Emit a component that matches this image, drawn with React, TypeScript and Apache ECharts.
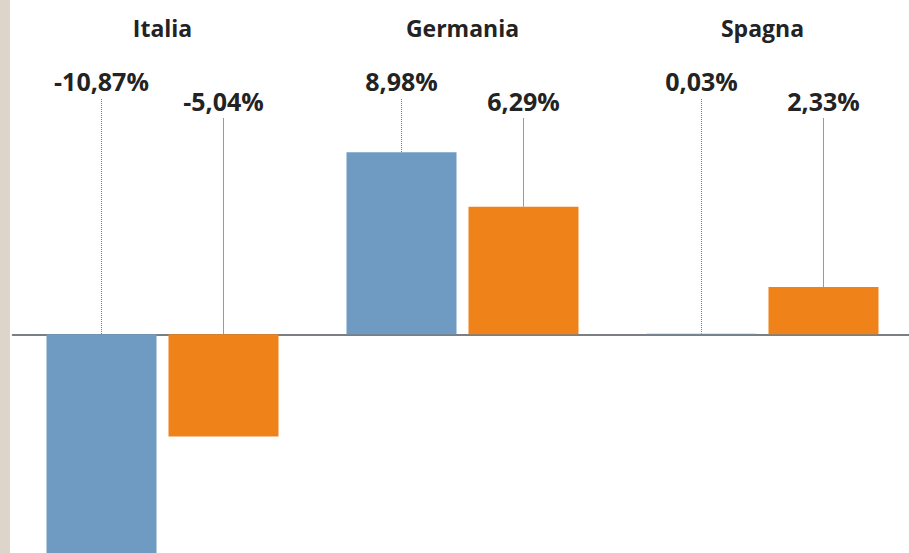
import React, { useEffect, useRef } from "react";
import * as echarts from "echarts";

const categories = ["Italia", "Germania", "Spagna"];
const seriesBlue = [-10.87, 8.98, 0.03];
const seriesOrange = [-5.04, 6.29, 2.33];

const BLUE = "#6f9bc3";
const ORANGE = "#f0821a";
const TEXT = "#232323";
const FONT = "'Open Sans', 'Noto Sans', sans-serif";

function fmt(v: number): string {
  return v.toFixed(2).replace(".", ",") + "%";
}

function leaderSeries(
  name: string,
  values: number[],
  offset: number,
  labelY: number,
  lineTop: number,
  dash: number[] | null
) {
  return {
    type: "custom",
    name,
    xAxisIndex: 0,
    yAxisIndex: 0,
    z: 5,
    clip: false,
    silent: true,
    data: values.map((v, i) => [i, v]),
    renderItem: (_params: any, api: any) => {
      const v = api.value(1) as number;
      const top = api.coord([api.value(0), Math.max(v, 0)]);
      const x = top[0] + offset;
      return {
        type: "group",
        children: [
          {
            type: "line",
            shape: { x1: x, y1: lineTop, x2: x, y2: top[1] },
            style: {
              stroke: dash ? "#7d7d7d" : "#9a9a9a",
              lineWidth: 1,
              lineDash: dash || undefined,
            },
          },
          {
            type: "text",
            x,
            y: labelY,
            style: {
              text: fmt(v),
              fill: TEXT,
              fontSize: 25,
              fontWeight: "bold",
              fontFamily: FONT,
              align: "center",
              verticalAlign: "middle",
            },
          },
        ],
      };
    },
  };
}

export default function App() {
  const ref = useRef<HTMLDivElement>(null);

  useEffect(() => {
    if (!ref.current) return;
    const chart = echarts.init(ref.current, null, { renderer: "svg" });
    chart.setOption({
      animation: false,
      backgroundColor: "#ffffff",
      graphic: [
        {
          type: "rect",
          left: 0,
          top: 0,
          shape: { width: 10, height: 600 },
          style: { fill: "#ddd5ca" },
        },
      ],
      grid: { left: 12.5, top: 91, width: 900, height: 486.5 },
      xAxis: [
        {
          type: "category",
          data: categories,
          position: "bottom",
          axisLine: { show: true, onZero: true, lineStyle: { color: "#4f555b", width: 1.5 } },
          axisTick: { show: false },
          axisLabel: { show: false },
          splitLine: { show: false },
        },
        {
          type: "category",
          data: categories,
          position: "top",
          axisLine: { show: false },
          axisTick: { show: false },
          splitLine: { show: false },
          axisLabel: {
            show: true,
            margin: 52,
            color: TEXT,
            fontSize: 23,
            fontWeight: "bold",
            fontFamily: FONT,
          },
        },
      ],
      yAxis: { type: "value", min: -12, max: 12, show: false },
      series: [
        {
          type: "bar",
          name: "A",
          data: seriesBlue,
          barWidth: 110,
          barGap: "10.9%",
          itemStyle: { color: BLUE },
          z: 2,
        },
        {
          type: "bar",
          name: "B",
          data: seriesOrange,
          barWidth: 110,
          barGap: "10.9%",
          itemStyle: { color: ORANGE },
          z: 2,
        },
        leaderSeries("labelsA", seriesBlue, -61, 81, 99, [1, 1]),
        leaderSeries("labelsB", seriesOrange, 61, 101, 118, null),
      ],
    });
    return () => chart.dispose();
  }, []);

  return (
    <div
      ref={ref}
      style={{ position: "fixed", left: 0, top: 0, width: 920, height: 600 }}
    />
  );
}
